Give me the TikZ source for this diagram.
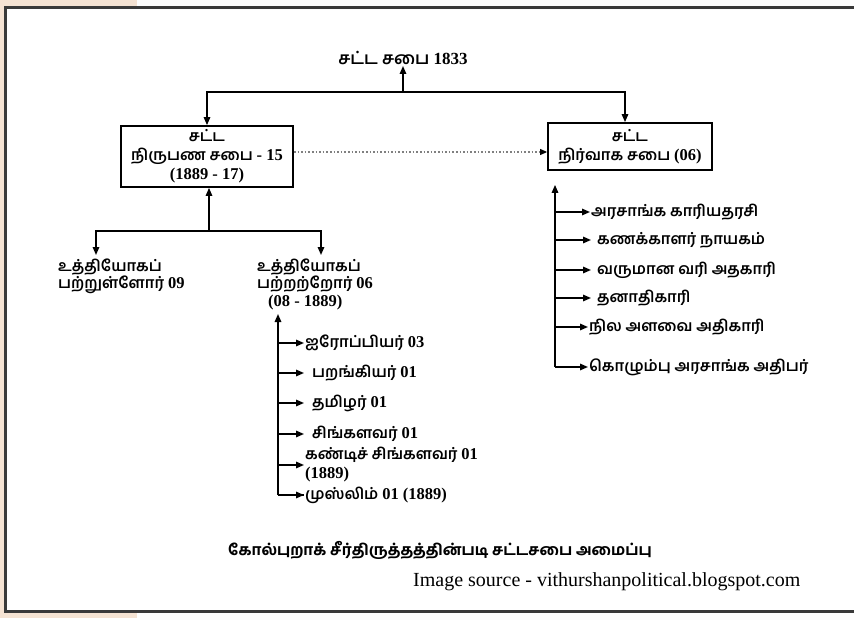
\documentclass[tikz,border=0pt]{standalone}
\usepackage{fontspec}
\setmainfont{Liberation Serif}
\IfFontExistsTF{Hind Madurai SemiBold}{%
  \newfontfamily\ta[Script=Tamil]{Hind Madurai SemiBold}}{%
  \IfFontExistsTF{Hind Madurai Bold}{%
    \newfontfamily\ta[Script=Tamil]{Hind Madurai Bold}}{%
    \newfontfamily\ta[Script=Tamil,FakeBold=3]{Hind Madurai}}}
\IfFontExistsTF{Hind Madurai Bold}{%
  \newfontfamily\tacap[Script=Tamil]{Hind Madurai Bold}}{%
  \newfontfamily\tacap[Script=Tamil,FakeBold=3]{Hind Madurai}}
\usetikzlibrary{arrows.meta}
\definecolor{peach}{HTML}{F5E3D3}
\definecolor{framegray}{HTML}{3A3A3A}
\newcommand{\nm}[1]{{\fontsize{16.5}{19}\selectfont\bfseries #1}}
\begin{document}
\begin{tikzpicture}[x=1pt,y=-1pt,
  conn/.style={line width=1.5pt},
  arr/.style={line width=1.5pt,-{Triangle[length=8pt,width=6.5pt]}},
  boxnode/.style={draw,line width=1.8pt,align=center,inner sep=0pt,font=\fontsize{15.5}{19}\selectfont},
  txt/.style={inner sep=1pt,align=left,font=\fontsize{15.5}{17}\selectfont},
  item/.style={anchor=west,inner sep=1pt,align=left,font=\fontsize{15.5}{20}\selectfont}]
\useasboundingbox (0,0) rectangle (854,618);
\fill[white] (0,0) rectangle (854,618);
\fill[peach] (0,0) rectangle (137,6);
\fill[peach] (0,0) rectangle (4,618);
\fill[peach] (0,613) rectangle (137,618);
\draw[framegray,line width=2.5pt] (856,7.5) -- (5.5,7.5) -- (5.5,611.5) -- (856,611.5);

% title
\node[txt,anchor=south,font=\fontsize{17}{20}\selectfont] (t) at (403,66) {{\ta சட்ட சபை} \textbf{1833}};
\coordinate (b1) at (403,92);
\node[boxnode,minimum width=172pt,minimum height=61pt] (L) at (207,156.5)
  {{\ta சட்ட}\\{\ta நிருபண சபை} \nm{- 15}\\\nm{(1889 - 17)}};
\node[boxnode,minimum width=164pt,minimum height=47pt] (R) at (630,146.5)
  {{\ta சட்ட}\\{\ta நிர்வாக சபை} \nm{(06)}};
\draw[arr] (b1) -- (t.south);
\draw[arr] (b1) -| (L.north);
\draw[arr] (b1) -| ([xshift=-5pt]R.north);
\draw[gray,line width=1.6pt,dotted] (L.east |- 0,152) -- ([xshift=-6pt]R.west |- 0,152);
\draw[-{Triangle[length=7pt,width=6pt]},line width=1pt] ([xshift=-7pt]R.west |- 0,152) -- (R.west |- 0,152);

% lower left tree
\coordinate (b2) at (209,231);
\draw[arr] (b2) -- (L.south -| b2);
\coordinate (d1) at (96,255);
\coordinate (d2) at (321,255);
\draw[arr] (b2) -| (d1);
\draw[arr] (b2) -| (d2);
\node[txt,anchor=north west] (o1) at (57,258) {{\ta உத்தியோகப்}\\{\ta பற்றுள்ளோர்} \nm{09}};
\node[txt,anchor=north west] (o2) at (256,258) {{\ta உத்தியோகப்}\\{\ta பற்றற்றோர்} \nm{06}\\[1pt]\hspace*{11pt}\nm{(08 - 1889)}};

% lower list
\coordinate (lt) at (278,314);
\coordinate (lb) at (278,495);
\draw[arr] (lb) -- (lt);
\node[item] (l1) at (304,343) {{\ta ஐரோப்பியர்} \nm{03}};
\node[item] (l2) at (311,373) {{\ta பறங்கியர்} \nm{01}};
\node[item] (l3) at (311,403) {{\ta தமிழர்} \nm{01}};
\node[item] (l4) at (311,434) {{\ta சிங்களவர்} \nm{01}};
\node[item,font=\fontsize{15.5}{19}\selectfont] (l5) at (304,465) {{\ta கண்டிச் சிங்களவர்} \nm{01}\\\nm{(1889)}};
\node[item] (l6) at (304,495) {{\ta முஸ்லிம்} \nm{01 (1889)}};
\draw[arr] (l1.west -| lt) -- (l1.west);
\draw[arr,shorten >=7pt] (l2.west -| lt) -- (l2.west);
\draw[arr,shorten >=7pt] (l3.west -| lt) -- (l3.west);
\draw[arr,shorten >=7pt] (l4.west -| lt) -- (l4.west);
\draw[arr] (l5.west -| lt) -- (l5.west);
\draw[conn] (lb) -- (l6.west);
\draw[arr] (l6.west -| lt) -- (l6.west);

% right list
\coordinate (rt) at (R.south -| 555,0);
\coordinate (rb) at (555,367);
\draw[arr] (rb) -- ([yshift=-14pt]rt);
\node[item] (r1) at (590,212) {{\ta அரசாங்க காரியதரசி}};
\node[item] (r2) at (596,240) {{\ta கணக்காளர் நாயகம்}};
\node[item] (r3) at (596,270) {{\ta வருமான வரி அதகாரி}};
\node[item] (r4) at (596,298) {{\ta தனாதிகாரி}};
\node[item] (r5) at (588,327) {{\ta நில அளவை அதிகாரி}};
\node[item] (r6) at (588,367) {{\ta கொழும்பு அரசாங்க அதிபர்}};
\draw[arr] (r1.west -| rb) -- (r1.west);
\draw[arr,shorten >=5pt] (r2.west -| rb) -- (r2.west);
\draw[arr,shorten >=5pt] (r3.west -| rb) -- (r3.west);
\draw[arr,shorten >=5pt] (r4.west -| rb) -- (r4.west);
\draw[arr] (r5.west -| rb) -- (r5.west);
\draw[arr] (r6.west -| rb) -- (r6.west);

% captions
\node[inner sep=0pt,font=\fontsize{15.3}{18}\selectfont] (cap) at (440,550) {{\tacap கோல்புறாக் சீர்திருத்தத்தின்படி சட்டசபை அமைப்பு}};
\node[inner sep=0pt,anchor=west,font=\fontsize{20}{24}\selectfont] (src) at (413,582) {Image source - vithurshanpolitical.blogspot.com};
\end{tikzpicture}
\end{document}
